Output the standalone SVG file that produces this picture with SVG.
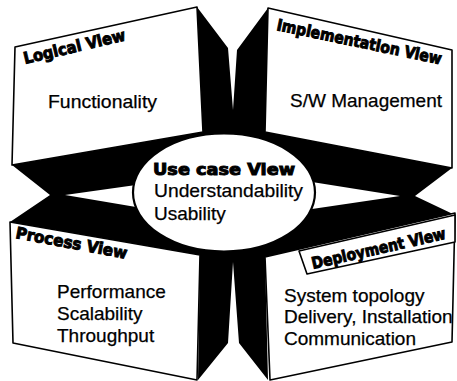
<svg xmlns="http://www.w3.org/2000/svg" width="457" height="381" viewBox="0 0 457 381">
<style>
.face{fill:#fff;stroke:#000;stroke-width:1.6;stroke-linejoin:round}
.txt{font-family:"Liberation Sans",Arial,sans-serif;font-size:19px;fill:#000;stroke:#000;stroke-width:0.25}
.lbl{font-family:"DejaVu Sans",sans-serif;font-weight:bold;font-size:16px;fill:#000;stroke:#000;stroke-width:1}
</style>
<rect width="457" height="381" fill="#fff"/>
<g id="wedges">
<polygon fill="#000" points="197,7 228,48 233,110 237,50 268,8 265,132 452,168 415,196 455,215 265,257 268,380 239,343 233,262 228,343 198,380 200,255 10,222 50,195 12,165 203,132"/>
<polygon fill="#fff" points="65,195 136,185 136,207"/>
<polygon fill="#fff" points="400,196 312,182 312,209"/>
</g>
<g id="logical-view">
<polygon class="face" points="15,47 197,7 203,132 12,165"/>
<text class="lbl" transform="translate(25,64) rotate(-13.3)" textLength="104" lengthAdjust="spacingAndGlyphs">Logical View</text>
<text class="txt" x="48" y="108" textLength="109" lengthAdjust="spacingAndGlyphs">Functionality</text>
</g>
<g id="implementation-view">
<polygon class="face" points="268,8 452,50 452,168 265,132"/>
<text class="lbl" transform="translate(276,30) rotate(11.8)" textLength="168" lengthAdjust="spacingAndGlyphs">Implementation View</text>
<text class="txt" x="290" y="107" textLength="152" lengthAdjust="spacingAndGlyphs">S/W Management</text>
</g>
<g id="process-view">
<polygon class="face" points="10,222 200,255 197,380 13,343"/>
<text class="lbl" transform="translate(15,238) rotate(10.6)" textLength="113" lengthAdjust="spacingAndGlyphs">Process View</text>
<text class="txt" x="57" y="298" font-size="18">Performance</text>
<text class="txt" x="57" y="320" font-size="18">Scalability</text>
<text class="txt" x="57" y="342" font-size="18">Throughput</text>
</g>
<g id="deployment-view">
<polygon class="face" points="265,257 455,213 452,342 270,380"/>
<polygon class="face" points="299,251 455,215 455,242 307,274"/>
<text class="lbl" transform="translate(313,269) rotate(-12.8)" textLength="137" lengthAdjust="spacingAndGlyphs">Deployment View</text>
<text class="txt" x="284" y="302">System topology</text>
<text class="txt" x="284" y="323">Delivery, Installation</text>
<text class="txt" x="284" y="345">Communication</text>
</g>
<g id="use-case-view">
<ellipse cx="224" cy="192.5" rx="91" ry="59" fill="#fff" stroke="#000" stroke-width="2.2"/>
<text class="lbl" x="153" y="175" font-size="18" textLength="142" lengthAdjust="spacingAndGlyphs">Use case View</text>
<text class="txt" x="154" y="197" textLength="149" lengthAdjust="spacingAndGlyphs">Understandability</text>
<text class="txt" x="154" y="220">Usability</text>
</g>
</svg>
